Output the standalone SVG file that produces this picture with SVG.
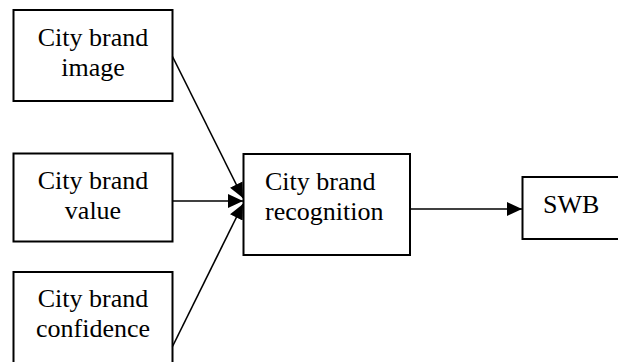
<svg xmlns="http://www.w3.org/2000/svg" width="618" height="362" viewBox="0 0 618 362">
  <style>
    .box { fill: #ffffff; stroke: #000000; stroke-width: 2; }
    .label { font-family: "Liberation Serif", "Times New Roman", serif; font-size: 26px; fill: #000000; }
    .mid { text-anchor: middle; }
    .link { fill: none; stroke: #000000; stroke-width: 1.6; }
  </style>
  <defs>
    <marker id="arrow" markerUnits="userSpaceOnUse" markerWidth="16" markerHeight="14" refX="15" refY="7" orient="auto">
      <path d="M0,0 L15,7 L0,14 z" fill="#000000"/>
    </marker>
  </defs>

  <rect width="618" height="362" fill="#ffffff"/>

  <g id="node-image">
    <rect class="box" x="13.5" y="10" width="159" height="91"/>
    <text class="label mid" x="93" y="45.5">City brand</text>
    <text class="label mid" x="93" y="75.5">image</text>
  </g>

  <g id="node-value">
    <rect class="box" x="13.5" y="153.5" width="159" height="88"/>
    <text class="label mid" x="93" y="188.5">City brand</text>
    <text class="label mid" x="93" y="219">value</text>
  </g>

  <g id="node-confidence">
    <rect class="box" x="13.5" y="272" width="159" height="110"/>
    <text class="label mid" x="93" y="306.5">City brand</text>
    <text class="label mid" x="93" y="336.5">confidence</text>
  </g>

  <g id="node-recognition">
    <rect class="box" x="243.5" y="154" width="166.5" height="101"/>
    <text class="label" x="265" y="189.5">City brand</text>
    <text class="label" x="265" y="220">recognition</text>
  </g>

  <g id="node-swb">
    <rect class="box" x="522.5" y="177" width="120" height="62"/>
    <text class="label" x="543" y="212.5">SWB</text>
  </g>

  <g id="connectors">
    <line class="link" x1="172.5" y1="56.5" x2="243" y2="198" marker-end="url(#arrow)"/>
    <line class="link" x1="172.5" y1="201" x2="243" y2="201" marker-end="url(#arrow)"/>
    <line class="link" x1="172.5" y1="346.5" x2="243" y2="204" marker-end="url(#arrow)"/>
    <line class="link" x1="410" y1="209" x2="522" y2="209" marker-end="url(#arrow)"/>
  </g>
</svg>
